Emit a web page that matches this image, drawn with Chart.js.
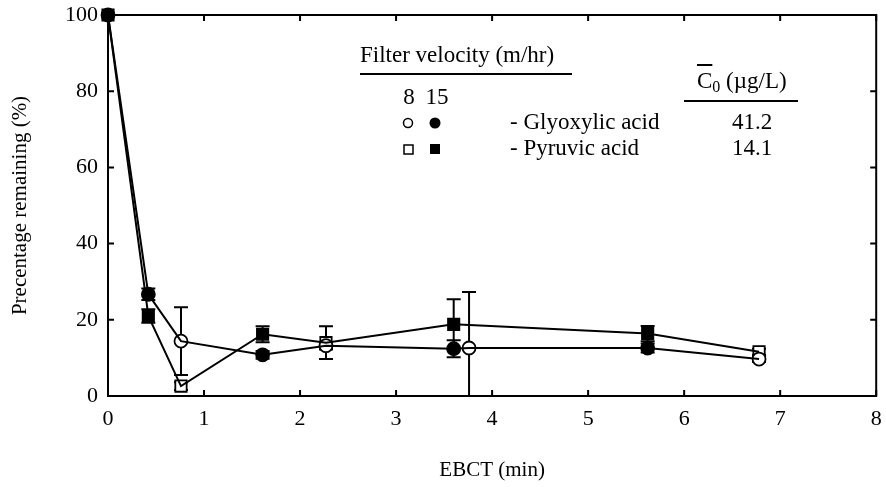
<!DOCTYPE html>
<html>
<head>
<meta charset="utf-8">
<script src="https://cdn.jsdelivr.net/npm/chart.js@4/dist/chart.umd.min.js"></script>
<style>
  html, body { margin: 0; padding: 0; background: #fff; }
  #wrap { width: 886px; height: 487px; }
</style>
</head>
<body>
<div id="wrap"><canvas id="chart"></canvas></div>
<script>
// EBCT (min) and percentage remaining
const glyox8X = [0.76, 2.27, 3.76, 6.78];
const glyox8Y = [14.4, 13.2, 12.6, 9.7];
const glyox8Err = [8.9, 1.0, 14.7, 0.8];

const glyox15X = [0, 0.42, 1.61, 3.6, 5.62];
const glyox15Y = [100, 26.7, 10.8, 12.4, 12.6];
const glyox15Err = [0, 1.5, 1.0, 2.2, 1.2];

const pyru8X = [0.76, 2.27, 6.78];
const pyru8Y = [2.6, 14.0, 11.6];
const pyru8Err = [1.0, 4.3, 0.8];

const pyru15X = [0, 0.42, 1.61, 3.6, 5.62];
const pyru15Y = [100, 21.0, 16.2, 18.8, 16.4];
const pyru15Err = [0, 1.8, 2.1, 6.6, 2.0];

const xTicks = [0, 1, 2, 3, 4, 5, 6, 7, 8];
const yTicks = [0, 20, 40, 60, 80, 100];

const FONT = 'Liberation Serif, Times New Roman, serif';

function pts(xs, ys, errs) {
  return xs.map((x, i) => ({ x: x, y: ys[i], err: errs ? errs[i] : 0 }));
}
function merged(a, b) {
  return a.concat(b).sort((p, q) => p.x - q.x);
}

const g8 = pts(glyox8X, glyox8Y, glyox8Err);
const g15 = pts(glyox15X, glyox15Y, glyox15Err);
const p8 = pts(pyru8X, pyru8Y, pyru8Err);
const p15 = pts(pyru15X, pyru15Y, pyru15Err);

const lineDs = (data) => ({
  data: data, showLine: true, borderColor: '#000', borderWidth: 2,
  pointRadius: 0, fill: false, tension: 0
});
const markDs = (data, style, filled, r) => ({
  data: data, showLine: false, pointStyle: style, pointRadius: r,
  pointBorderWidth: 1.8, pointBorderColor: '#000',
  pointBackgroundColor: filled ? '#000' : '#fff', errorBars: true, clip: false
});

// error bars, drawn below the markers
const errorBars = {
  id: 'errorBars',
  beforeDatasetsDraw(chart) {
    const { ctx, chartArea, scales: { x, y } } = chart;
    ctx.save();
    ctx.beginPath();
    ctx.rect(chartArea.left, chartArea.top, chartArea.right - chartArea.left, chartArea.bottom - chartArea.top);
    ctx.clip();
    ctx.strokeStyle = '#000';
    ctx.lineWidth = 2;
    chart.data.datasets.forEach(ds => {
      if (!ds.errorBars) return;
      ds.data.forEach(p => {
        if (!p.err) return;
        const px = x.getPixelForValue(p.x);
        const top = y.getPixelForValue(p.y + p.err);
        const bot = y.getPixelForValue(p.y - p.err);
        ctx.beginPath();
        ctx.moveTo(px, top); ctx.lineTo(px, bot);
        ctx.moveTo(px - 7, top); ctx.lineTo(px + 7, top);
        ctx.moveTo(px - 7, bot); ctx.lineTo(px + 7, bot);
        ctx.stroke();
      });
    });
    ctx.restore();
  }
};

// box frame with inward ticks on all sides
const frame = {
  id: 'frame',
  beforeDatasetsDraw(chart) {
    const { ctx, chartArea: a, scales: { x, y } } = chart;
    ctx.save();
    ctx.strokeStyle = '#000';
    ctx.lineWidth = 2;
    ctx.strokeRect(a.left, a.top, a.right - a.left, a.bottom - a.top);
    ctx.beginPath();
    xTicks.forEach(v => {
      const px = x.getPixelForValue(v);
      ctx.moveTo(px, a.bottom); ctx.lineTo(px, a.bottom - 6);
      ctx.moveTo(px, a.top); ctx.lineTo(px, a.top + 6);
    });
    yTicks.forEach(v => {
      const py = y.getPixelForValue(v);
      ctx.moveTo(a.left, py); ctx.lineTo(a.left + 6, py);
      ctx.moveTo(a.right, py); ctx.lineTo(a.right - 6, py);
    });
    ctx.stroke();
    ctx.restore();
  }
};

// legend block inside the plot
const legendBlock = {
  id: 'legendBlock',
  afterDraw(chart) {
    const ctx = chart.ctx;
    ctx.save();
    ctx.fillStyle = '#000';
    ctx.strokeStyle = '#000';
    ctx.font = '23px ' + FONT;
    ctx.textBaseline = 'middle';

    ctx.textAlign = 'left';
    ctx.fillText('Filter velocity (m/hr)', 360, 56);
    ctx.lineWidth = 1.8;
    ctx.beginPath();
    ctx.moveTo(360, 74); ctx.lineTo(572, 74);
    ctx.stroke();

    ctx.textAlign = 'center';
    ctx.fillText('8', 409, 98);
    ctx.fillText('15', 437, 98);

    ctx.lineWidth = 1.5;
    // glyoxylic row
    ctx.beginPath(); ctx.arc(408, 123, 4.5, 0, Math.PI * 2); ctx.stroke();
    ctx.beginPath(); ctx.arc(435, 123, 5.5, 0, Math.PI * 2); ctx.fill();
    // pyruvic row
    ctx.strokeRect(404, 145, 9, 9);
    ctx.fillRect(430, 144, 10, 10);

    ctx.textAlign = 'left';
    ctx.fillText('- Glyoxylic acid', 510, 123);
    ctx.fillText('- Pyruvic acid', 510, 149);

    ctx.textAlign = 'center';
    ctx.fillText('41.2', 752, 123);
    ctx.fillText('14.1', 752, 149);

    // C0 header
    ctx.textAlign = 'left';
    ctx.fillText('C', 697, 82);
    const cw = ctx.measureText('C').width;
    ctx.font = '16px ' + FONT;
    ctx.fillText('0', 697 + cw, 88);
    const zw = ctx.measureText('0').width;
    ctx.font = '23px ' + FONT;
    ctx.fillText(' (\u00b5g/L)', 697 + cw + zw, 82);
    ctx.lineWidth = 1.8;
    ctx.beginPath();
    ctx.moveTo(697, 65); ctx.lineTo(697 + cw, 65);
    ctx.moveTo(684, 101); ctx.lineTo(798, 101);
    ctx.stroke();
    ctx.restore();
  }
};

const axisFont = { family: FONT, size: 22 };
const titleFont = { family: FONT, size: 21 };

new Chart(document.getElementById('chart').getContext('2d'), {
  type: 'scatter',
  data: {
    datasets: [
      lineDs(merged(g8, g15)),
      lineDs(merged(p8, p15)),
      markDs(g8, 'circle', false, 6.5),
      markDs(g15, 'circle', true, 6.5),
      markDs(p8, 'rect', false, 8),
      markDs(p15, 'rect', true, 8)
    ]
  },
  options: {
    responsive: true,
    maintainAspectRatio: false,
    animation: false,
    layout: { padding: { top: 15, right: 7, left: 4, bottom: 0 } },
    plugins: { legend: { display: false }, tooltip: { enabled: false } },
    scales: {
      x: {
        type: 'linear', min: 0, max: 8,
        afterBuildTicks: s => { s.ticks = xTicks.map(v => ({ value: v })); },
        afterFit: s => { s.height = 91; s.paddingLeft = 0; s.paddingRight = 0; },
        ticks: { color: '#000', font: axisFont, padding: 10, maxRotation: 0 },
        grid: { display: false, drawTicks: false },
        border: { display: false },
        title: { display: true, text: 'EBCT (min)', color: '#000', font: titleFont, padding: { top: 14 } }
      },
      y: {
        min: 0, max: 100,
        afterBuildTicks: s => { s.ticks = yTicks.map(v => ({ value: v })); },
        afterFit: s => { s.width = 104; s.paddingTop = 0; s.paddingBottom = 0; },
        ticks: { color: '#000', font: axisFont, padding: 10 },
        grid: { display: false, drawTicks: false },
        border: { display: false },
        title: { display: true, text: 'Precentage remaining (%)', color: '#000', font: titleFont, padding: { bottom: 4 } }
      }
    }
  },
  plugins: [frame, errorBars, legendBlock]
});
</script>
</body>
</html>
